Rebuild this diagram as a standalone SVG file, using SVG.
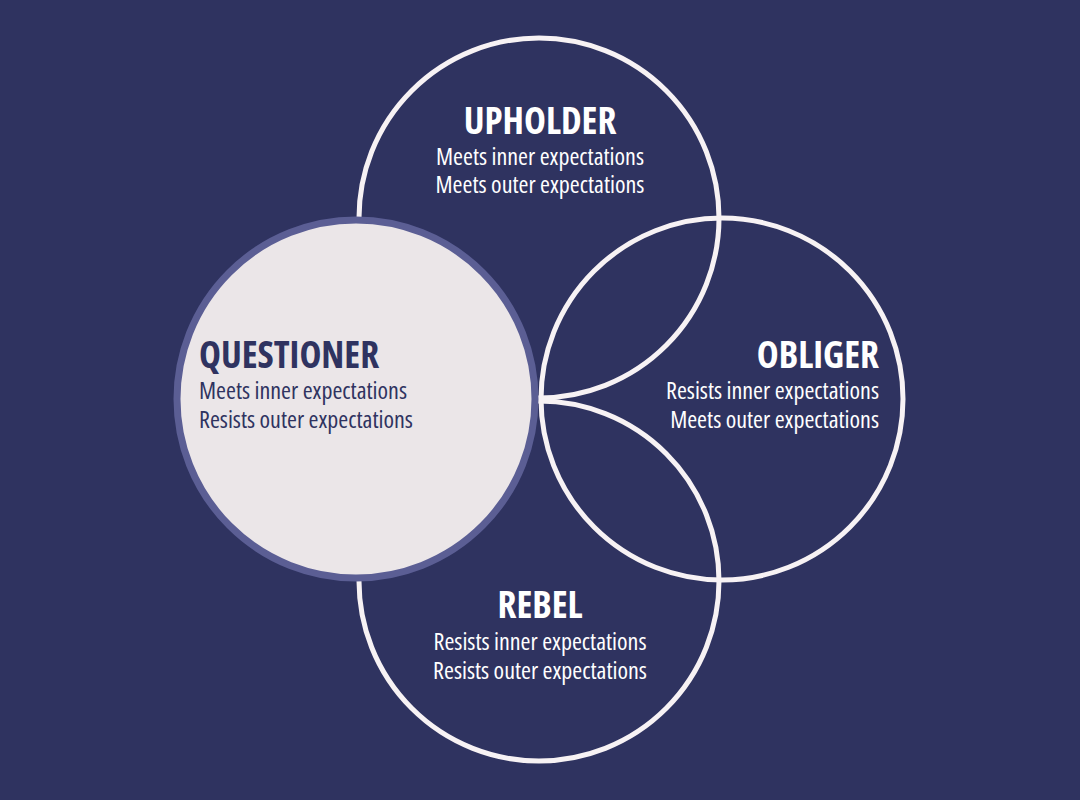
<svg xmlns="http://www.w3.org/2000/svg" width="1080" height="800" viewBox="0 0 1080 800">
<style>
.ring{fill:none;stroke:#f7f2f4;stroke-width:5}
.t{font-family:"Open Sans","Noto Sans","Liberation Sans",sans-serif;font-stretch:condensed}
.h{font-size:37px;font-weight:700}
.b{font-size:24px;font-weight:400}
.w{fill:#ffffff}
.d{fill:#2f3360}
</style>
<rect width="1080" height="800" fill="#2f3360"/>
<g id="upholder">
<circle class="ring" cx="539" cy="218" r="180"/>
<text class="t h w" x="540" y="134" text-anchor="middle">UPHOLDER</text>
<text class="t b w" x="540" y="165" text-anchor="middle">Meets inner expectations</text>
<text class="t b w" x="540" y="193" text-anchor="middle">Meets outer expectations</text>
</g>
<g id="obliger">
<circle class="ring" cx="722" cy="399" r="181"/>
<text class="t h w" x="879" y="368" text-anchor="end">OBLIGER</text>
<text class="t b w" x="879" y="399" text-anchor="end">Resists inner expectations</text>
<text class="t b w" x="879" y="428" text-anchor="end">Meets outer expectations</text>
</g>
<g id="rebel">
<circle class="ring" cx="539" cy="581" r="180"/>
<text class="t h w" x="540" y="618" text-anchor="middle">REBEL</text>
<text class="t b w" x="540" y="650" text-anchor="middle">Resists inner expectations</text>
<text class="t b w" x="540" y="679" text-anchor="middle">Resists outer expectations</text>
</g>
<g id="questioner">
<circle cx="356" cy="399" r="179" fill="#ebe6e8" stroke="#5b5e94" stroke-width="7"/>
<text class="t h d" x="199" y="368">QUESTIONER</text>
<text class="t b d" x="199" y="399">Meets inner expectations</text>
<text class="t b d" x="199" y="428">Resists outer expectations</text>
</g>
<g id="connectors"></g>
</svg>
